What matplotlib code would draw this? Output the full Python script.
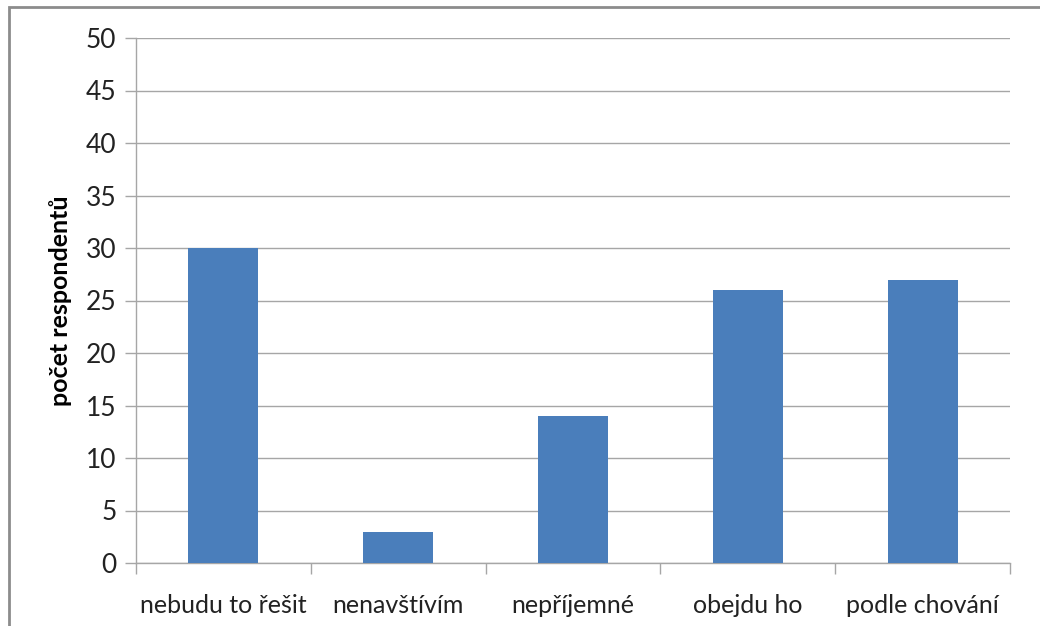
import matplotlib.pyplot as plt
from matplotlib.patches import Rectangle

categories = ['nebudu to řešit', 'nenavštívím', 'nepříjemné', 'obejdu ho', 'podle chování']
values = [30, 3, 14, 26, 27]
y_ticks = [0, 5, 10, 15, 20, 25, 30, 35, 40, 45, 50]

plt.rcParams['font.family'] = ['Lato', 'DejaVu Sans']

fig = plt.figure(figsize=(10.4, 6.26), dpi=100)
ax = fig.add_axes([136 / 1040, 63 / 626, 874 / 1040, 525 / 626])

# outer frame (cut off on right and bottom like the reference)
fig.patches.append(Rectangle((9 / 1040, -0.05), 1.2, 1 - 7 / 626 + 0.05,
                             transform=fig.transFigure, fill=False,
                             edgecolor='#8c8c8c', linewidth=2))

pos = list(range(len(categories)))
ax.bar(pos, values, width=0.4, color='#4a7ebb', zorder=3)

ax.set_xlim(-0.5, len(categories) - 0.5)
ax.set_ylim(0, 50)
ax.set_yticks(y_ticks)
ax.yaxis.grid(True, color='#a6a6a6', linewidth=1, zorder=0)

ax.set_xticks([p - 0.5 for p in pos] + [len(categories) - 0.5])
ax.set_xticklabels([])
ax.set_xticks(pos, minor=True)
ax.set_xticklabels(categories, minor=True)
ax.tick_params(axis='x', which='major', length=8, color='#a6a6a6', width=1)
ax.tick_params(axis='x', which='minor', length=0, pad=22, labelsize=18, labelcolor='#222222')
ax.tick_params(axis='y', length=8, color='#a6a6a6', width=1, labelsize=19, labelcolor='#222222', pad=6)

for s in ['top', 'right']:
    ax.spines[s].set_visible(False)
for s in ['left', 'bottom']:
    ax.spines[s].set_color('#a6a6a6')
    ax.spines[s].set_linewidth(1)

ax.set_ylabel('počet respondentů', fontsize=18, fontweight='bold', labelpad=10)

fig.savefig('out.png', dpi=100)
